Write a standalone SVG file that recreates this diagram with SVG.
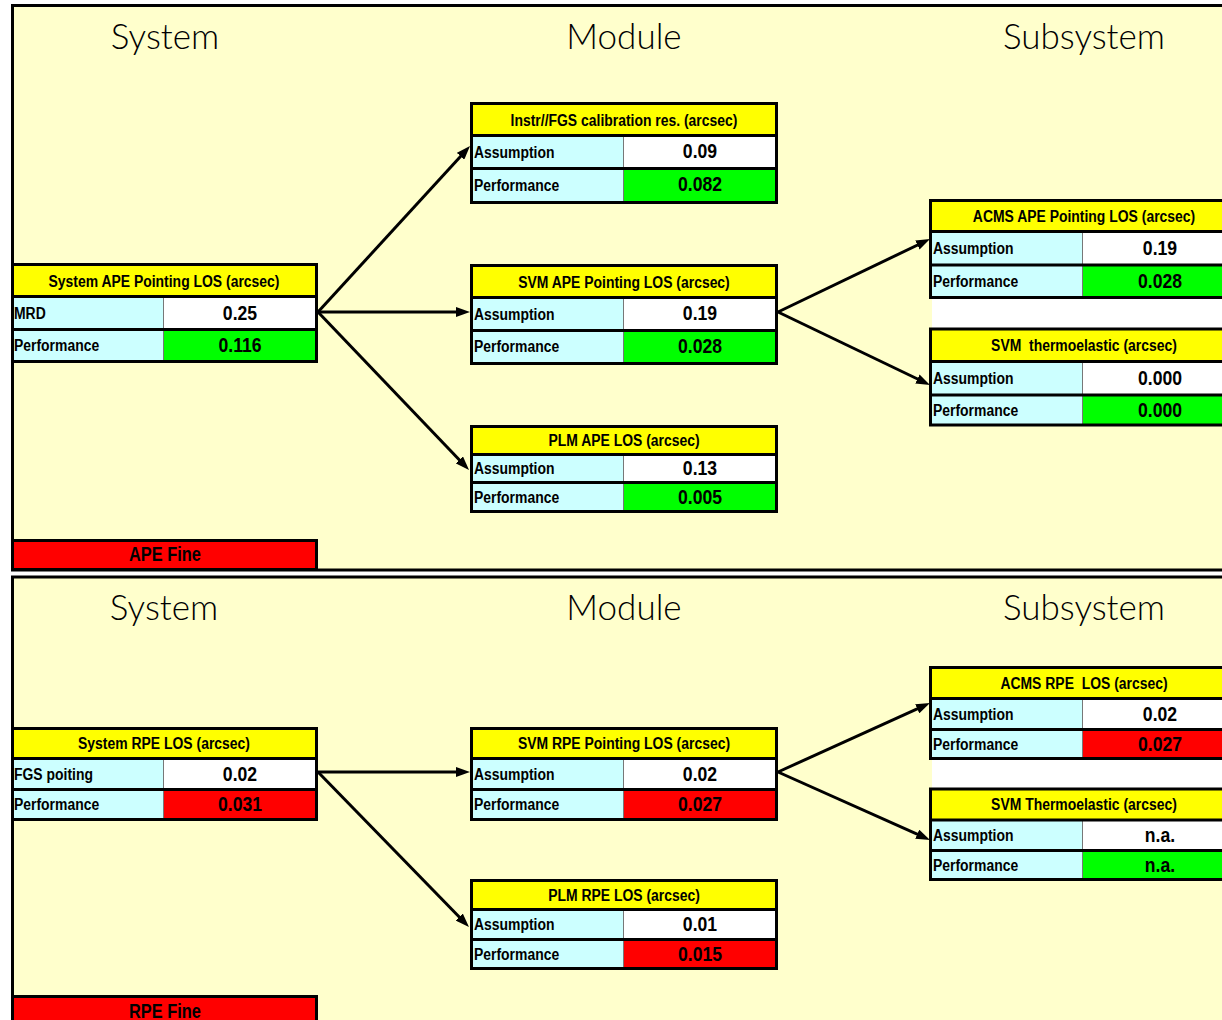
<svg xmlns="http://www.w3.org/2000/svg" width="1222" height="1020" viewBox="0 0 1222 1020">
<style>
.panel{fill:#FFFFCC;stroke:#000;stroke-width:3}
.title{font-family:Lato,"Liberation Sans",sans-serif;font-weight:300;font-size:35px;fill:#000;text-anchor:middle}
.hdr{font-family:"Liberation Sans",sans-serif;font-weight:bold;font-size:17px;fill:#000;text-anchor:middle;transform-box:fill-box;transform-origin:center;transform:scaleX(0.82);white-space:pre}
.lbl{font-family:"Liberation Sans",sans-serif;font-weight:bold;font-size:17px;fill:#000;transform-box:fill-box;transform-origin:left center;transform:scaleX(0.82)}
.val{font-family:"Liberation Sans",sans-serif;font-weight:bold;font-size:20px;fill:#000;text-anchor:middle;transform-box:fill-box;transform-origin:center;transform:scaleX(0.88)}
.fine{font-family:"Liberation Sans",sans-serif;font-weight:bold;font-size:20px;fill:#000;text-anchor:middle;transform-box:fill-box;transform-origin:center;transform:scaleX(0.82)}
.y{fill:#FFFF00}.c{fill:#CCFFFF}.w{fill:#FFFFFF}.g{fill:#00FF00}.r{fill:#FF0000}
.ol{fill:none;stroke:#000;stroke-width:3}
.sep{stroke:#000;stroke-width:3}
.div{stroke:#777;stroke-width:1}
.conn{stroke:#000;stroke-width:3;fill:none;marker-end:url(#ah)}
</style>
<defs>
<marker id="ah" markerUnits="userSpaceOnUse" viewBox="0 0 14 10" markerWidth="14" markerHeight="10" refX="6" refY="5" orient="auto">
<path d="M0,0 L14,5 L0,10 z" fill="#000"/>
</marker>
</defs>
<rect width="1222" height="1020" fill="#FFFFFF"/>
<rect class="panel" x="12.5" y="5.5" width="1225" height="564.5"/>
<rect class="panel" x="12.5" y="577" width="1225" height="460"/>
<text class="title" x="165" y="49">System</text>
<text class="title" x="624" y="49">Module</text>
<text class="title" x="1084" y="49">Subsystem</text>
<text class="title" x="164" y="620">System</text>
<text class="title" x="624" y="620">Module</text>
<text class="title" x="1084" y="620">Subsystem</text>
<rect x="932" y="299" width="290" height="29" fill="#FFFFFF"/>
<rect x="932" y="760" width="290" height="28" fill="#FFFFFF"/>
<g id="connectors">
<line class="conn" x1="318" y1="312" x2="464.6" y2="151.9"/>
<line class="conn" x1="318" y1="312" x2="462" y2="312"/>
<line class="conn" x1="318" y1="312" x2="463.5" y2="464.2"/>
<line class="conn" x1="778" y1="312" x2="922.8" y2="242.5"/>
<line class="conn" x1="778" y1="312" x2="922.8" y2="381.5"/>
<line class="conn" x1="318" y1="772" x2="462" y2="772"/>
<line class="conn" x1="318" y1="772" x2="463.4" y2="921.3"/>
<line class="conn" x1="778" y1="772" x2="922.7" y2="706.3"/>
<line class="conn" x1="778" y1="772" x2="922.7" y2="836.7"/>
</g>
<g id="sysAPE">
<rect class="y" x="12.5" y="264.5" width="304" height="32"/>
<rect class="c" x="12.5" y="296.5" width="151" height="65"/>
<rect class="w" x="163.5" y="296.5" width="153" height="33"/>
<rect class="g" x="163.5" y="329.5" width="153" height="32"/>
<line class="div" x1="163.5" y1="296.5" x2="163.5" y2="361.5"/>
<line class="sep" x1="12.5" y1="296.5" x2="316.5" y2="296.5"/>
<line class="sep" x1="12.5" y1="329.5" x2="316.5" y2="329.5"/>
<rect class="ol" x="12.5" y="264.5" width="304" height="97"/>
<text class="hdr" x="164" y="287">System APE Pointing LOS (arcsec)</text>
<text class="lbl" x="14" y="319">MRD</text>
<text class="val" x="240" y="320">0.25</text>
<text class="lbl" x="14" y="351.5">Performance</text>
<text class="val" x="240" y="352.5">0.116</text>
</g>
<g id="instrFGS">
<rect class="y" x="471.5" y="103.5" width="305" height="32"/>
<rect class="c" x="471.5" y="135.5" width="152" height="67"/>
<rect class="w" x="623.5" y="135.5" width="153" height="33"/>
<rect class="g" x="623.5" y="168.5" width="153" height="34"/>
<line class="div" x1="623.5" y1="135.5" x2="623.5" y2="202.5"/>
<line class="sep" x1="471.5" y1="135.5" x2="776.5" y2="135.5"/>
<line class="sep" x1="471.5" y1="168.5" x2="776.5" y2="168.5"/>
<rect class="ol" x="471.5" y="103.5" width="305" height="99"/>
<text class="hdr" x="624" y="126">Instr//FGS calibration res. (arcsec)</text>
<text class="lbl" x="474" y="158">Assumption</text>
<text class="val" x="700" y="158.5">0.09</text>
<text class="lbl" x="474" y="191">Performance</text>
<text class="val" x="700" y="191.5">0.082</text>
</g>
<g id="svmAPE">
<rect class="y" x="471.5" y="265.5" width="305" height="32"/>
<rect class="c" x="471.5" y="297.5" width="152" height="66"/>
<rect class="w" x="623.5" y="297.5" width="153" height="33"/>
<rect class="g" x="623.5" y="330.5" width="153" height="33"/>
<line class="div" x1="623.5" y1="297.5" x2="623.5" y2="363.5"/>
<line class="sep" x1="471.5" y1="297.5" x2="776.5" y2="297.5"/>
<line class="sep" x1="471.5" y1="330.5" x2="776.5" y2="330.5"/>
<rect class="ol" x="471.5" y="265.5" width="305" height="98"/>
<text class="hdr" x="624" y="288">SVM APE Pointing LOS (arcsec)</text>
<text class="lbl" x="474" y="320">Assumption</text>
<text class="val" x="700" y="320.5">0.19</text>
<text class="lbl" x="474" y="352.5">Performance</text>
<text class="val" x="700" y="353.5">0.028</text>
</g>
<g id="plmAPE">
<rect class="y" x="471.5" y="426.5" width="305" height="28"/>
<rect class="c" x="471.5" y="454.5" width="152" height="57"/>
<rect class="w" x="623.5" y="454.5" width="153" height="28"/>
<rect class="g" x="623.5" y="482.5" width="153" height="29"/>
<line class="div" x1="623.5" y1="454.5" x2="623.5" y2="511.5"/>
<line class="sep" x1="471.5" y1="454.5" x2="776.5" y2="454.5"/>
<line class="sep" x1="471.5" y1="482.5" x2="776.5" y2="482.5"/>
<rect class="ol" x="471.5" y="426.5" width="305" height="85"/>
<text class="hdr" x="624" y="446.5">PLM APE LOS (arcsec)</text>
<text class="lbl" x="474" y="474.5">Assumption</text>
<text class="val" x="700" y="475.5">0.13</text>
<text class="lbl" x="474" y="503">Performance</text>
<text class="val" x="700" y="504">0.005</text>
</g>
<g id="acmsAPE">
<rect class="y" x="930.5" y="200.5" width="310" height="31"/>
<rect class="c" x="930.5" y="231.5" width="152" height="66"/>
<rect class="w" x="1082.5" y="231.5" width="158" height="33.5"/>
<rect class="g" x="1082.5" y="265" width="158" height="32.5"/>
<line class="div" x1="1082.5" y1="231.5" x2="1082.5" y2="297.5"/>
<line class="sep" x1="930.5" y1="231.5" x2="1240" y2="231.5"/>
<line class="sep" x1="930.5" y1="265" x2="1240" y2="265"/>
<rect class="ol" x="930.5" y="200.5" width="310" height="97"/>
<text class="hdr" x="1084" y="222">ACMS APE Pointing LOS (arcsec)</text>
<text class="lbl" x="933" y="254">Assumption</text>
<text class="val" x="1160" y="255">0.19</text>
<text class="lbl" x="933" y="287">Performance</text>
<text class="val" x="1160" y="288">0.028</text>
</g>
<g id="svmThermoAPE">
<rect class="y" x="930.5" y="329" width="310" height="32.5"/>
<rect class="c" x="930.5" y="361.5" width="152" height="63.5"/>
<rect class="w" x="1082.5" y="361.5" width="158" height="33.5"/>
<rect class="g" x="1082.5" y="395" width="158" height="30"/>
<line class="div" x1="1082.5" y1="361.5" x2="1082.5" y2="425"/>
<line class="sep" x1="930.5" y1="361.5" x2="1240" y2="361.5"/>
<line class="sep" x1="930.5" y1="395" x2="1240" y2="395"/>
<rect class="ol" x="930.5" y="329" width="310" height="96"/>
<text class="hdr" x="1084" y="351.5">SVM  thermoelastic (arcsec)</text>
<text class="lbl" x="933" y="384">Assumption</text>
<text class="val" x="1160" y="385">0.000</text>
<text class="lbl" x="933" y="416">Performance</text>
<text class="val" x="1160" y="417">0.000</text>
</g>
<g id="apeFine">
<rect class="r" x="12.5" y="540.5" width="304" height="29" stroke="#000" stroke-width="3"/>
<text class="fine" x="165" y="561.5">APE Fine</text>
</g>
<g id="sysRPE">
<rect class="y" x="12.5" y="728.5" width="304" height="30"/>
<rect class="c" x="12.5" y="758.5" width="151" height="61"/>
<rect class="w" x="163.5" y="758.5" width="153" height="31"/>
<rect class="r" x="163.5" y="789.5" width="153" height="30"/>
<line class="div" x1="163.5" y1="758.5" x2="163.5" y2="819.5"/>
<line class="sep" x1="12.5" y1="758.5" x2="316.5" y2="758.5"/>
<line class="sep" x1="12.5" y1="789.5" x2="316.5" y2="789.5"/>
<rect class="ol" x="12.5" y="728.5" width="304" height="91"/>
<text class="hdr" x="164" y="749.5">System RPE LOS (arcsec)</text>
<text class="lbl" x="14" y="780">FGS poiting</text>
<text class="val" x="240" y="781">0.02</text>
<text class="lbl" x="14" y="810.5">Performance</text>
<text class="val" x="240" y="811.5">0.031</text>
</g>
<g id="svmRPE">
<rect class="y" x="471.5" y="728.5" width="305" height="30"/>
<rect class="c" x="471.5" y="758.5" width="152" height="61"/>
<rect class="w" x="623.5" y="758.5" width="153" height="31"/>
<rect class="r" x="623.5" y="789.5" width="153" height="30"/>
<line class="div" x1="623.5" y1="758.5" x2="623.5" y2="819.5"/>
<line class="sep" x1="471.5" y1="758.5" x2="776.5" y2="758.5"/>
<line class="sep" x1="471.5" y1="789.5" x2="776.5" y2="789.5"/>
<rect class="ol" x="471.5" y="728.5" width="305" height="91"/>
<text class="hdr" x="624" y="749.5">SVM RPE Pointing LOS (arcsec)</text>
<text class="lbl" x="474" y="780">Assumption</text>
<text class="val" x="700" y="781">0.02</text>
<text class="lbl" x="474" y="810.5">Performance</text>
<text class="val" x="700" y="811.5">0.027</text>
</g>
<g id="plmRPE">
<rect class="y" x="471.5" y="880.5" width="305" height="29"/>
<rect class="c" x="471.5" y="909.5" width="152" height="59"/>
<rect class="w" x="623.5" y="909.5" width="153" height="30"/>
<rect class="r" x="623.5" y="939.5" width="153" height="29"/>
<line class="div" x1="623.5" y1="909.5" x2="623.5" y2="968.5"/>
<line class="sep" x1="471.5" y1="909.5" x2="776.5" y2="909.5"/>
<line class="sep" x1="471.5" y1="939.5" x2="776.5" y2="939.5"/>
<rect class="ol" x="471.5" y="880.5" width="305" height="88"/>
<text class="hdr" x="624" y="901">PLM RPE LOS (arcsec)</text>
<text class="lbl" x="474" y="930.5">Assumption</text>
<text class="val" x="700" y="931.5">0.01</text>
<text class="lbl" x="474" y="960">Performance</text>
<text class="val" x="700" y="961">0.015</text>
</g>
<g id="acmsRPE">
<rect class="y" x="930.5" y="667.5" width="310" height="31"/>
<rect class="c" x="930.5" y="698.5" width="152" height="60"/>
<rect class="w" x="1082.5" y="698.5" width="158" height="31"/>
<rect class="r" x="1082.5" y="729.5" width="158" height="29"/>
<line class="div" x1="1082.5" y1="698.5" x2="1082.5" y2="758.5"/>
<line class="sep" x1="930.5" y1="698.5" x2="1240" y2="698.5"/>
<line class="sep" x1="930.5" y1="729.5" x2="1240" y2="729.5"/>
<rect class="ol" x="930.5" y="667.5" width="310" height="91"/>
<text class="hdr" x="1084" y="689">ACMS RPE  LOS (arcsec)</text>
<text class="lbl" x="933" y="720">Assumption</text>
<text class="val" x="1160" y="721">0.02</text>
<text class="lbl" x="933" y="750">Performance</text>
<text class="val" x="1160" y="751">0.027</text>
</g>
<g id="svmThermoRPE">
<rect class="y" x="930.5" y="789" width="310" height="31"/>
<rect class="c" x="930.5" y="820" width="152" height="59.5"/>
<rect class="w" x="1082.5" y="820" width="158" height="30.5"/>
<rect class="g" x="1082.5" y="850.5" width="158" height="29"/>
<line class="div" x1="1082.5" y1="820" x2="1082.5" y2="879.5"/>
<line class="sep" x1="930.5" y1="820" x2="1240" y2="820"/>
<line class="sep" x1="930.5" y1="850.5" x2="1240" y2="850.5"/>
<rect class="ol" x="930.5" y="789" width="310" height="90.5"/>
<text class="hdr" x="1084" y="810.5">SVM Thermoelastic (arcsec)</text>
<text class="lbl" x="933" y="841">Assumption</text>
<text class="val" x="1160" y="842">n.a.</text>
<text class="lbl" x="933" y="871">Performance</text>
<text class="val" x="1160" y="872">n.a.</text>
</g>
<g id="rpeFine">
<rect class="r" x="12.5" y="996.5" width="304" height="40" stroke="#000" stroke-width="3"/>
<text class="fine" x="165" y="1018">RPE Fine</text>
</g>
</svg>
